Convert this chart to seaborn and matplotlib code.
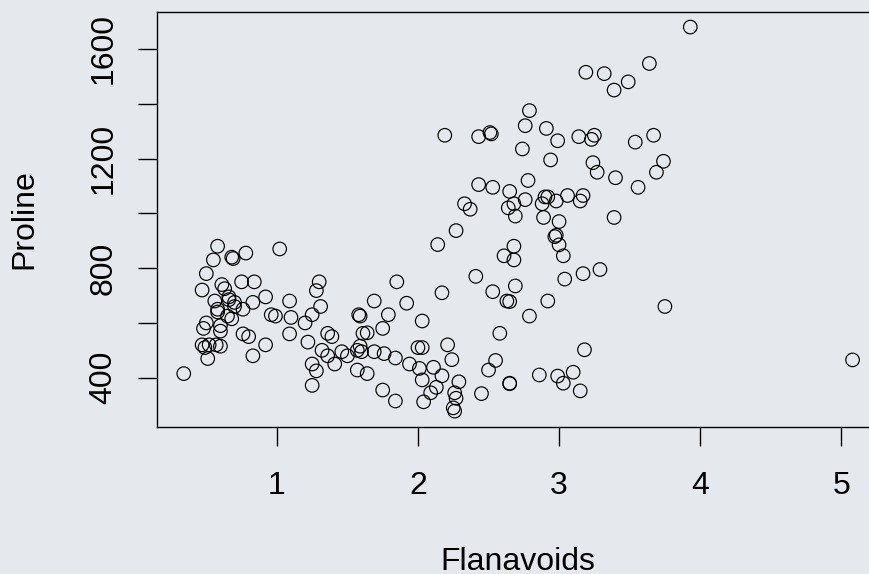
import matplotlib
matplotlib.use("Agg")
import matplotlib.pyplot as plt
import seaborn as sns
import pandas as pd

# Wine data: Flavanoids vs Proline (three cultivars, in order)
flav_c1 = [3.06, 2.76, 3.24, 3.49, 2.69, 3.39, 2.52, 2.51, 2.98, 3.15, 3.32, 2.43, 2.76, 3.69, 3.64,
           2.91, 3.14, 3.4, 3.93, 3.03, 3.17, 2.41, 2.88, 2.37, 2.61, 2.68, 2.94, 2.19, 2.97, 2.33,
           3.25, 3.19, 2.69, 2.74, 2.53, 2.98, 2.68, 2.43, 2.64, 3.04, 3.29, 2.68, 3.56, 2.63, 3.0,
           2.65, 3.17, 3.39, 2.92, 3.54, 3.27, 2.99, 3.74, 2.79, 2.9, 2.78, 3.0, 3.23, 3.67]
prol_c1 = [1065, 1050, 1185, 1480, 735, 1450, 1290, 1295, 1045, 1045, 1510, 1280, 1320, 1150, 1547,
           1310, 1280, 1130, 1680, 845, 780, 770, 1035, 1015, 845, 830, 1195, 1285, 915, 1035,
           1285, 1515, 990, 1235, 1095, 920, 880, 1105, 1020, 760, 795, 1035, 1095, 680, 885,
           1080, 1065, 985, 1060, 1260, 1150, 1265, 1190, 1375, 1060, 1120, 970, 1270, 1285]

flav_c2 = [0.57, 1.09, 1.41, 1.79, 3.1, 1.75, 2.65, 3.18, 2.0, 1.3, 1.28, 1.02, 2.86, 1.84, 2.89,
           2.14, 1.57, 2.03, 1.32, 1.85, 2.55, 2.26, 2.53, 1.58, 1.59, 2.21, 1.94, 1.69, 1.61, 1.69,
           1.59, 1.5, 1.25, 1.46, 2.25, 2.26, 2.27, 0.99, 2.5, 3.75, 2.99, 2.17, 1.36, 2.11, 1.64,
           1.92, 1.84, 2.03, 1.76, 2.04, 2.92, 2.58, 2.27, 2.03, 2.01, 2.29, 2.17, 1.6, 2.09, 1.25,
           1.64, 2.79, 5.08, 2.13, 2.65, 3.03, 2.65, 3.15, 2.24, 2.45, 1.75]
prol_c2 = [520, 680, 450, 630, 420, 355, 678, 502, 510, 750, 718, 870, 410, 472, 985,
           886, 428, 392, 500, 750, 463, 278, 714, 630, 515, 520, 450, 495, 562, 680,
           625, 480, 450, 495, 290, 345, 937, 625, 428, 660, 406, 710, 562, 438, 415,
           672, 315, 510, 488, 312, 680, 562, 325, 607, 434, 385, 407, 495, 345, 372,
           564, 625, 465, 365, 380, 380, 378, 352, 466, 342, 580]

flav_c3 = [1.25, 1.22, 1.09, 1.2, 0.58, 0.66, 0.47, 0.6, 0.48, 0.6, 0.5, 0.5, 0.52, 0.8, 0.78,
           0.55, 0.34, 0.65, 0.76, 1.39, 1.57, 1.36, 1.28, 0.83, 0.58, 0.63, 0.83, 0.58, 1.31, 1.1,
           0.92, 0.56, 0.6, 0.7, 0.68, 0.47, 0.92, 0.66, 0.84, 0.96, 0.49, 0.51, 0.7, 0.61, 0.75,
           0.69, 0.68, 0.76]
prol_c3 = [630, 530, 560, 600, 650, 695, 720, 515, 580, 590, 600, 780, 520, 550, 855,
           830, 415, 625, 650, 550, 500, 480, 425, 675, 640, 725, 480, 880, 660, 620,
           520, 680, 570, 675, 615, 520, 695, 685, 750, 630, 510, 470, 660, 740, 750,
           835, 840, 560]

x_ticks = [1, 2, 3, 4, 5]
y_ticks = [400, 600, 800, 1000, 1200, 1400, 1600]
y_tick_labels = ["400", "", "800", "", "1200", "", "1600"]
x_title = "Flanavoids"
y_title = "Proline"

df = pd.DataFrame({
    "Flavanoids": flav_c1 + flav_c2 + flav_c3,
    "Proline": prol_c1 + prol_c2 + prol_c3,
})

BG = "#e5e9ee"
sns.set_style("white")
plt.rcParams["font.family"] = ["Liberation Sans", "DejaVu Sans"]

fig = plt.figure(figsize=(8.69, 5.74), dpi=100, facecolor=BG)
ax = fig.add_axes([157 / 869, (574 - 426.5) / 574, (879.3 - 157) / 869, (426.5 - 11.7) / 574])
ax.set_facecolor(BG)

sns.scatterplot(data=df, x="Flavanoids", y="Proline", ax=ax, marker="o", s=95,
                facecolor="none", edgecolor="black", linewidth=0.85, legend=False)

xmin, xmax = min(df["Flavanoids"]), max(df["Flavanoids"])
ymin, ymax = min(df["Proline"]), max(df["Proline"])
ax.set_xlim(xmin - 0.04 * (xmax - xmin), xmax + 0.04 * (xmax - xmin))
ax.set_ylim(ymin - 0.04 * (ymax - ymin), ymax + 0.04 * (ymax - ymin))

ax.set_xticks(x_ticks)
ax.set_xticklabels([str(t) for t in x_ticks])
ax.set_yticks(y_ticks)
ax.set_yticklabels(y_tick_labels, rotation=90, va="center")

for sp in ax.spines.values():
    sp.set_visible(True)
    sp.set_color("black")
    sp.set_linewidth(1.0)

ax.tick_params(axis="both", which="major", direction="out", length=13.7, width=1.0,
               color="black", labelsize=23, labelcolor="black",
               bottom=True, left=True, top=False, right=False)
ax.tick_params(axis="x", pad=18)
ax.tick_params(axis="y", pad=14)

ax.set_xlabel(x_title, fontsize=23, color="black", va="baseline")
ax.set_ylabel(y_title, fontsize=23, color="black", va="center")
ax.xaxis.set_label_coords(0.5, (426.5 - 570) / 414.8)
ax.yaxis.set_label_coords((24 - 157) / 722.3, 0.5)

fig.savefig("out.png", dpi=100, facecolor=BG)
